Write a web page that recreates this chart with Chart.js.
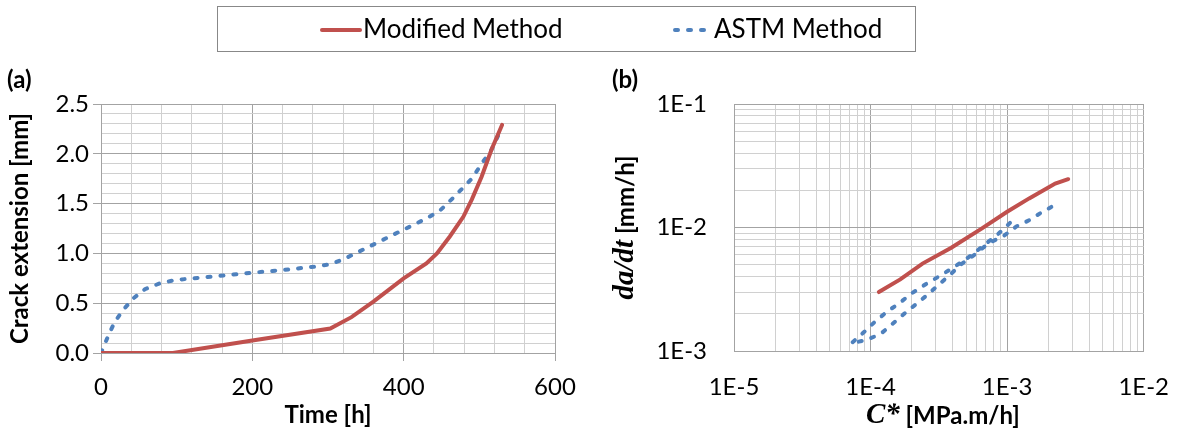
<!DOCTYPE html>
<html>
<head>
<meta charset="utf-8">
<script src="https://cdn.jsdelivr.net/npm/chart.js@4.4.1/dist/chart.umd.min.js"></script>
<style>
  body { margin: 0; background: #fff; font-family: Lato, "Open Sans", sans-serif; }
  #wrap { position: relative; width: 1191px; height: 432px; overflow: hidden; }
  canvas { position: absolute; top: 0; }
  .legend { position: absolute; left: 217px; top: 6px; width: 699px; height: 46px; border: 1px solid #888; box-sizing: border-box; }
  .lg-text { position: absolute; top: 13px; font-size: 26px; line-height: 30px; color: #000; white-space: nowrap; }
  .lg-line { position: absolute; top: 27px; }
  .panel { position: absolute; top: 64px; font-weight: bold; font-size: 24px; color: #000; }
</style>
</head>
<body>
<div id="wrap">
  <canvas id="chartA" width="590" height="432" style="left:0"></canvas>
  <canvas id="chartB" width="591" height="432" style="left:600px"></canvas>
  <div class="legend"></div>
  <svg class="lg-line" style="left:320px" width="42" height="6"><line x1="2" y1="3" x2="40" y2="3" stroke="#C0504D" stroke-width="4" stroke-linecap="round"/></svg>
  <div class="lg-text" style="left:363px">Modified Method</div>
  <svg class="lg-line" style="left:672px" width="42" height="6"><line x1="3" y1="3" x2="40" y2="3" stroke="#4F81BD" stroke-width="4" stroke-dasharray="3 10" stroke-linecap="round"/></svg>
  <div class="lg-text" style="left:714px">ASTM Method</div>
  <div class="panel" style="left:7px">(a)</div>
  <div class="panel" style="left:612px">(b)</div>
</div>
<script>
// (a) crack extension vs time
const timeModified  = [0, 95, 200, 303, 331, 360, 400, 430, 444, 461, 479, 490, 503, 516, 530];
const crackModified = [0, 0, 0.125, 0.245, 0.36, 0.515, 0.75, 0.90, 1.0, 1.17, 1.37, 1.54, 1.77, 2.04, 2.29];
const timeAstm  = [0, 10, 18, 29, 43, 58, 78, 98, 137, 179, 200, 241, 281, 303, 320, 355, 395, 430, 448, 463, 476, 490, 503, 516, 526];
const crackAstm = [0, 0.18, 0.31, 0.43, 0.55, 0.64, 0.70, 0.733, 0.76, 0.79, 0.806, 0.833, 0.866, 0.89, 0.94, 1.07, 1.22, 1.35, 1.43, 1.54, 1.64, 1.75, 1.90, 2.04, 2.2];

// (b) da/dt vs C*
const cstarModified = [1.15e-4, 1.65e-4, 2.4e-4, 3.9e-4, 6.5e-4, 1.0e-3, 1.45e-3, 2.25e-3, 2.8e-3];
const dadtModified  = [3.0e-3, 3.8e-3, 5.1e-3, 6.85e-3, 9.8e-3, 1.34e-2, 1.72e-2, 2.27e-2, 2.46e-2];
const cstarAstm = [1.05e-3, 8.7e-4, 7.05e-4, 5.9e-4, 4.9e-4, 3.95e-4, 3.15e-4, 2.55e-4, 2.0e-4, 1.64e-4, 1.32e-4, 1.09e-4, 9.2e-5, 7.2e-5,
                   9.3e-5, 1.18e-4, 1.45e-4, 1.76e-4, 2.16e-4, 2.6e-4, 3.2e-4, 3.87e-4, 4.63e-4, 5.86e-4, 7.3e-4, 9.4e-4, 1.17e-3, 1.46e-3, 1.82e-3, 2.35e-3];
const dadtAstm  = [1.09e-2, 8.97e-3, 7.45e-3, 6.37e-3, 5.46e-3, 4.67e-3, 4.0e-3, 3.49e-3, 2.93e-3, 2.46e-3, 2.08e-3, 1.75e-3, 1.46e-3, 1.15e-3,
                   1.23e-3, 1.37e-3, 1.66e-3, 2.0e-3, 2.4e-3, 2.84e-3, 3.49e-3, 4.2e-3, 5.06e-3, 6.1e-3, 7.45e-3, 8.53e-3, 1.02e-2, 1.15e-2, 1.34e-2, 1.57e-2];

const timeMajor  = [0, 200, 400, 600];
const crackMajor = [0, 0.5, 1.0, 1.5, 2.0, 2.5];

const RED = '#C0504D';
const BLUE = '#4F81BD';
const MAJOR = '#a3a3a3';
const MINOR = '#d0d0d0';
const tickFont = { family: 'Lato', size: 24 };
const titleFont = { family: 'Lato', size: 24, weight: 'bold' };

function pts(xs, ys) {
  return xs.map((x, i) => ({ x: x, y: ys[i] }));
}
function isMajorIn(list, v) {
  return list.some(m => Math.abs(m - v) < 1e-6);
}
function isDecade(v) {
  const e = Math.log10(v);
  return Math.abs(e - Math.round(e)) < 1e-6;
}
function logTicks(min, max) {
  const out = [];
  for (let e = Math.round(Math.log10(min)); e < Math.round(Math.log10(max)); e++) {
    for (let m = 1; m < 10; m++) out.push({ value: m * Math.pow(10, e) });
  }
  out.push({ value: max });
  return out;
}

function lineSet(label, data, color, dashed) {
  return {
    label: label,
    data: data,
    borderColor: color,
    borderWidth: 4,
    borderDash: dashed ? [3, 10] : [],
    borderCapStyle: 'round',
    pointRadius: 0,
    showLine: true,
    tension: 0,
    fill: false
  };
}

// chart (a)
new Chart(document.getElementById('chartA'), {
  type: 'scatter',
  data: {
    datasets: [
      lineSet('Modified Method', pts(timeModified, crackModified), RED, false),
      lineSet('ASTM Method', pts(timeAstm, crackAstm), BLUE, true)
    ]
  },
  options: {
    responsive: false,
    animation: false,
    devicePixelRatio: 1,
    layout: { padding: { top: 104, right: 35, left: 0, bottom: 0 } },
    plugins: { legend: { display: false }, tooltip: { enabled: false } },
    scales: {
      x: {
        type: 'linear', min: 0, max: 600,
        afterFit: s => { s.height = 79; },
        ticks: {
          stepSize: 40, autoSkip: false, maxRotation: 0, color: '#000', font: tickFont, padding: 12,
          callback: v => isMajorIn(timeMajor, v) ? String(v) : ''
        },
        grid: {
          color: c => isMajorIn(timeMajor, c.tick.value) ? MAJOR : MINOR,
          tickColor: c => isMajorIn(timeMajor, c.tick.value) ? MAJOR : 'rgba(0,0,0,0)',
          tickLength: 8
        },
        border: { color: MAJOR },
        title: { display: true, text: 'Time [h]', color: '#000', font: titleFont, padding: { top: 0, bottom: 2 } }
      },
      y: {
        type: 'linear', min: 0, max: 2.5,
        afterFit: s => { s.width = 101; },
        ticks: {
          stepSize: 0.1, autoSkip: false, color: '#000', font: tickFont, padding: 4,
          callback: v => isMajorIn(crackMajor, v) ? v.toFixed(1) : ''
        },
        grid: {
          color: c => isMajorIn(crackMajor, c.tick.value) ? MAJOR : MINOR,
          tickColor: c => isMajorIn(crackMajor, c.tick.value) ? MAJOR : 'rgba(0,0,0,0)',
          tickLength: 8
        },
        border: { color: MAJOR },
        title: { display: true, text: 'Crack extension [mm]', color: '#000', font: titleFont, padding: { top: 6, bottom: 0 } }
      }
    }
  }
});

// axis titles with mixed fonts for chart (b)
function drawParts(ctx, parts, cx, cy, angle) {
  ctx.save();
  ctx.translate(cx, cy);
  ctx.rotate(angle);
  ctx.textBaseline = 'middle';
  ctx.textAlign = 'left';
  ctx.fillStyle = '#000';
  let total = 0;
  parts.forEach(p => { ctx.font = p.font; p.w = ctx.measureText(p.text).width; total += p.w; });
  let x = -total / 2;
  parts.forEach(p => { ctx.font = p.font; ctx.fillText(p.text, x, 0); x += p.w; });
  ctx.restore();
}
const mixedTitles = {
  id: 'mixedTitles',
  afterDraw(chart) {
    const ctx = chart.ctx;
    const a = chart.chartArea;
    drawParts(ctx, [
      { text: 'da/dt', font: 'italic bold 29px "Liberation Serif"' },
      { text: ' [mm/h]', font: 'bold 24px Lato' }
    ], 26, (a.top + a.bottom) / 2, -Math.PI / 2);
    drawParts(ctx, [
      { text: 'C*', font: 'italic bold 29px "Liberation Serif"' },
      { text: ' [MPa.m/h]', font: 'bold 24px Lato' }
    ], (a.left + a.right) / 2 + 4, 416, 0);
  }
};

// chart (b)
new Chart(document.getElementById('chartB'), {
  type: 'scatter',
  data: {
    datasets: [
      lineSet('Modified Method', pts(cstarModified, dadtModified), RED, false),
      lineSet('ASTM Method', pts(cstarAstm, dadtAstm), BLUE, true)
    ]
  },
  options: {
    responsive: false,
    animation: false,
    devicePixelRatio: 1,
    layout: { padding: { top: 104, right: 35, left: 0, bottom: 0 } },
    plugins: { legend: { display: false }, tooltip: { enabled: false } },
    scales: {
      x: {
        type: 'logarithmic', min: 1e-5, max: 1e-2,
        afterFit: s => { s.height = 81; },
        afterBuildTicks: s => { s.ticks = logTicks(1e-5, 1e-2); },
        ticks: {
          autoSkip: false, maxRotation: 0, color: '#000', font: tickFont, padding: 22,
          callback: v => isDecade(v) ? '1E' + Math.round(Math.log10(v)) : ''
        },
        grid: { color: c => isDecade(c.tick.value) ? MAJOR : MINOR, drawTicks: false },
        border: { color: MAJOR }
      },
      y: {
        type: 'logarithmic', min: 1e-3, max: 1e-1,
        afterFit: s => { s.width = 134; },
        afterBuildTicks: s => { s.ticks = logTicks(1e-3, 1e-1); },
        ticks: {
          autoSkip: false, color: '#000', font: tickFont, padding: 27,
          callback: v => isDecade(v) ? '1E' + Math.round(Math.log10(v)) : ''
        },
        grid: { color: c => isDecade(c.tick.value) ? MAJOR : MINOR, drawTicks: false },
        border: { color: MAJOR }
      }
    }
  },
  plugins: [mixedTitles]
});
</script>
</body>
</html>
